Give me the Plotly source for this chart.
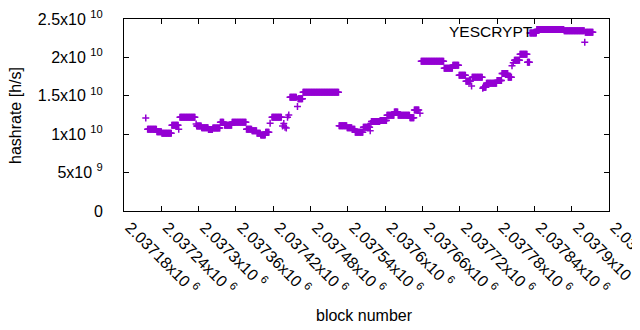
import numpy as np
import plotly.graph_objects as go

# Runs of consecutive blocks sharing the same hashrate estimate (values in units of 1e10 h/s)
seg_start = [2037215, 2037218, 2037233, 2037241, 2037257, 2037268, 2037270, 2037296, 2037297, 2037305,
             2037316, 2037323, 2037335, 2037342, 2037354, 2037377, 2037386, 2037394, 2037400, 2037408,
             2037415, 2037418, 2037435, 2037437, 2037439, 2037441, 2037443, 2037445, 2037447, 2037459,
             2037460, 2037468, 2037526, 2037539, 2037547, 2037552, 2037565, 2037576, 2037577, 2037578,
             2037592, 2037603, 2037615, 2037621, 2037640, 2037647, 2037656, 2037658, 2037695, 2037709,
             2037719, 2037730, 2037739, 2037740, 2037757, 2037758, 2037763, 2037780, 2037788, 2037798,
             2037804, 2037806, 2037808, 2037817, 2037829, 2037833, 2037844, 2037888, 2037921, 2037922]
seg_end = [2037215, 2037232, 2037240, 2037256, 2037267, 2037268, 2037294, 2037296, 2037304, 2037315,
           2037322, 2037334, 2037340, 2037353, 2037376, 2037385, 2037393, 2037399, 2037407, 2037413,
           2037415, 2037433, 2037435, 2037437, 2037439, 2037441, 2037443, 2037445, 2037457, 2037459,
           2037467, 2037525, 2037538, 2037546, 2037551, 2037564, 2037575, 2037576, 2037577, 2037591,
           2037602, 2037614, 2037620, 2037639, 2037646, 2037654, 2037656, 2037694, 2037708, 2037718,
           2037729, 2037737, 2037739, 2037756, 2037757, 2037762, 2037779, 2037787, 2037797, 2037803,
           2037804, 2037806, 2037816, 2037828, 2037832, 2037843, 2037887, 2037920, 2037921, 2037934]
seg_value_e10 = [1.211, 1.064, 1.032, 1.012, 1.116, 1.064, 1.220, 1.133, 1.107, 1.085,
                 1.060, 1.081, 1.155, 1.116, 1.155, 1.064, 1.045, 1.012, 0.990, 1.025,
                 1.142, 1.220, 1.107, 1.140, 1.090, 1.080, 1.220, 1.250, 1.480, 1.360,
                 1.462, 1.545, 1.111, 1.085, 1.064, 1.025, 1.090, 1.045, 1.140, 1.165,
                 1.180, 1.246, 1.289, 1.246, 1.215, 1.315, 1.272, 1.949, 1.858, 1.897,
                 1.767, 1.689, 1.628, 1.741, 1.598, 1.610, 1.665, 1.700, 1.790, 1.740,
                 1.890, 1.930, 1.963, 2.040, 1.936, 2.318, 2.363, 2.348, 2.196, 2.328]

x_tickvals = [2037180, 2037240, 2037300, 2037360, 2037420, 2037480, 2037540,
              2037600, 2037660, 2037720, 2037780, 2037840, 2037900, 2037960]
x_ticktext = ["2.03718x10 <sup>6</sup>", "2.03724x10 <sup>6</sup>", "2.0373x10 <sup>6</sup>",
              "2.03736x10 <sup>6</sup>", "2.03742x10 <sup>6</sup>", "2.03748x10 <sup>6</sup>",
              "2.03754x10 <sup>6</sup>", "2.0376x10 <sup>6</sup>", "2.03766x10 <sup>6</sup>",
              "2.03772x10 <sup>6</sup>", "2.03778x10 <sup>6</sup>", "2.03784x10 <sup>6</sup>",
              "2.0379x10 <sup>6</sup>", "2.03796x10 <sup>6</sup>"]
y_tickvals = [0, 5e9, 1e10, 1.5e10, 2e10, 2.5e10]
y_ticktext = ["0", "5x10 <sup>9</sup>", "1x10 <sup>10</sup>", "1.5x10 <sup>10</sup>",
              "2x10 <sup>10</sup>", "2.5x10 <sup>10</sup>"]

blocks = []
rates = []
for s, e, v in zip(seg_start, seg_end, seg_value_e10):
    for b in range(s, e + 1):
        blocks.append(b)
        rates.append(v * 1e10)

COLOR = "#9400D3"
FONT = "Liberation Sans, Arial, sans-serif"
FS = 16

# the page body has an 8px margin, so the figure is drawn 8px right and down
fig = go.Figure()
fig.add_trace(go.Scatter(
    x=blocks, y=rates, mode="markers", name="YESCRYPT",
    marker=dict(symbol="cross-thin", size=5, color=COLOR,
                line=dict(color=COLOR, width=1.5)),
    showlegend=False,
))

axis_common = dict(showline=True, linecolor="black", linewidth=1, mirror="ticks",
                   ticks="inside", ticklen=5, tickcolor="black", showgrid=False,
                   zeroline=False, ticklabeloverflow="allow",
                   tickfont=dict(family=FONT, size=FS, color="black"))

fig.update_xaxes(range=[2037180, 2037960], tickvals=x_tickvals, ticktext=x_ticktext,
                 tickangle=45, ticklabelshift=6, **axis_common)
fig.update_yaxes(range=[0, 2.5e10], tickvals=y_tickvals, ticktext=y_ticktext,
                 ticklabelstandoff=17, **axis_common)

fig.update_layout(
    width=632, height=322,
    margin=dict(l=116, r=31, t=11, b=119, autoexpand=False),
    paper_bgcolor="white", plot_bgcolor="white",
    font=dict(family=FONT, size=FS, color="black"),
    annotations=[
        dict(text="YESCRYPT", xref="paper", yref="paper", x=0.847, y=0.934,
             xanchor="right", yanchor="middle", showarrow=False,
             font=dict(family=FONT, size=15.5, color="black")),
        dict(text="block number", xref="paper", yref="paper", x=(364 - 124) / 485,
             y=(211 - 315) / 192, xanchor="center", yanchor="middle", showarrow=False,
             font=dict(family=FONT, size=FS, color="black")),
        dict(text="hashrate [h/s]", xref="paper", yref="paper", x=(16 - 124) / 485,
             y=(211 - 116) / 192, xanchor="center", yanchor="middle", textangle=-90,
             showarrow=False, font=dict(family=FONT, size=FS, color="black")),
    ],
)

fig.write_html("out.html")
